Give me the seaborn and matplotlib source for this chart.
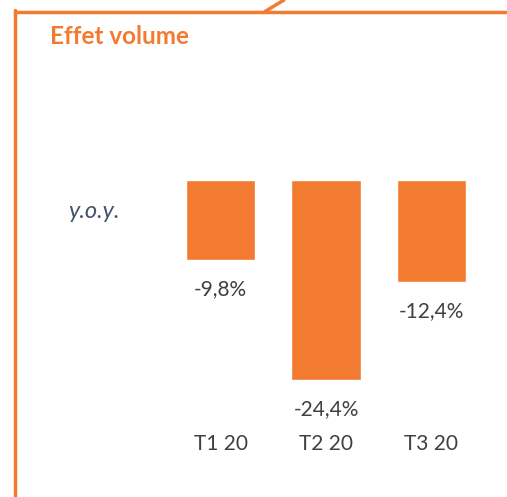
import numpy as np
import pandas as pd
import matplotlib
matplotlib.use('Agg')
import matplotlib.pyplot as plt
import seaborn as sns
from matplotlib.lines import Line2D

quarters = ['T1 20', 'T2 20', 'T3 20']
yoy = [-9.8, -24.4, -12.4]
labels = ['-9,8%', '-24,4%', '-12,4%']

orange = '#F37B31'
grey = '#404040'

sns.set_theme(style='white')
plt.rcParams['font.family'] = ['Lato', 'DejaVu Sans']

fig = plt.figure(figsize=(5.07, 4.97), dpi=100)
W, H = 507, 497

# axes placed so bars hang from the zero line
ax = fig.add_axes([167.75 / W, 1 - 425.9 / H, 316.5 / W, 245.9 / H])
df = pd.DataFrame({'quarter': quarters, 'yoy': yoy})
sns.barplot(data=df, x='quarter', y='yoy', color=orange, saturation=1,
            width=0.66, ax=ax)
ax.set_xlim(-0.5, 2.5)
ax.set_ylim(-30, 0)
ax.set_xlabel('')
ax.set_ylabel('')
ax.set_yticks([])
sns.despine(ax=ax, left=True, bottom=True)
ax.tick_params(axis='x', length=0, pad=6, labelsize=15, labelcolor=grey)

# value labels under each bar
for i, (v, lab) in enumerate(zip(yoy, labels)):
    ax.annotate(lab, (i, v), xytext=(0, -29), textcoords='offset pixels',
                ha='center', va='center', fontsize=15, color=grey)

# frame decoration
fig.add_artist(Line2D([15 / W, 15 / W], [0, 1 - 10 / H], color=orange, lw=2.5))
fig.add_artist(Line2D([15 / W, 1], [1 - 11.5 / H, 1 - 11.5 / H], color=orange, lw=2.5))
fig.add_artist(Line2D([265 / W, 284 / W], [1 - 11.5 / H, 1], color=orange, lw=2.5))

fig.text(50 / W, 1 - 36 / H, 'Effet volume', fontsize=17.5, fontweight='bold',
         color=orange, va='center', ha='left')
fig.text(68 / W, 1 - 211 / H, 'y.o.y.', fontsize=17, style='italic',
         color='#44546A', va='center', ha='left')

fig.savefig('out.png', dpi=100)
